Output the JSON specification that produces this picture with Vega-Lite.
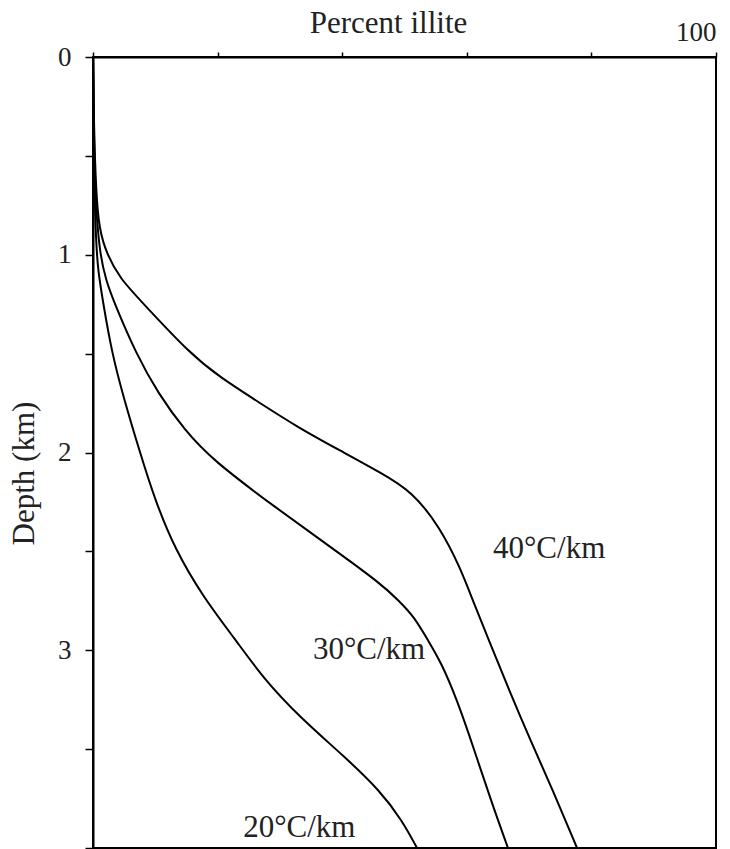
{
  "$schema": "https://vega.github.io/schema/vega-lite/v6.json",
  "width": 623,
  "height": 791,
  "autosize": "none",
  "padding": {"left": 93, "top": 57, "right": 14, "bottom": 1},
  "background": "white",
  "config": {
    "font": "Liberation Serif",
    "view": {"stroke": "black", "strokeWidth": 2},
    "axis": {"grid": false, "domainColor": "black", "domainWidth": 2, "tickColor": "black", "tickWidth": 1.5, "labelColor": "#222", "titleColor": "#222", "labelFont": "Liberation Serif", "titleFont": "Liberation Serif", "labelFontSize": 27, "titleFontSize": 31, "titleFontWeight": "normal"}
  },
  "datasets": {
    "curves": [
      {"gradient": "40°C/km", "depth": 0, "pct": 0},
      {"gradient": "40°C/km", "depth": 0.37, "pct": 0.16},
      {"gradient": "40°C/km", "depth": 0.67, "pct": 0.48},
      {"gradient": "40°C/km", "depth": 0.87, "pct": 0.96},
      {"gradient": "40°C/km", "depth": 1.0, "pct": 2.25},
      {"gradient": "40°C/km", "depth": 1.12, "pct": 4.33},
      {"gradient": "40°C/km", "depth": 1.24, "pct": 7.87},
      {"gradient": "40°C/km", "depth": 1.5, "pct": 15.57},
      {"gradient": "40°C/km", "depth": 1.62, "pct": 20.39},
      {"gradient": "40°C/km", "depth": 1.75, "pct": 26.81},
      {"gradient": "40°C/km", "depth": 1.87, "pct": 32.74},
      {"gradient": "40°C/km", "depth": 1.99, "pct": 39.65},
      {"gradient": "40°C/km", "depth": 2.1, "pct": 46.07},
      {"gradient": "40°C/km", "depth": 2.2, "pct": 51.36},
      {"gradient": "40°C/km", "depth": 2.38, "pct": 55.7},
      {"gradient": "40°C/km", "depth": 2.58, "pct": 58.91},
      {"gradient": "40°C/km", "depth": 2.75, "pct": 60.99},
      {"gradient": "40°C/km", "depth": 2.95, "pct": 63.56},
      {"gradient": "40°C/km", "depth": 3.2, "pct": 66.77},
      {"gradient": "40°C/km", "depth": 3.45, "pct": 70.14},
      {"gradient": "40°C/km", "depth": 3.71, "pct": 73.84},
      {"gradient": "40°C/km", "depth": 4.0, "pct": 77.69},
      {"gradient": "30°C/km", "depth": 0, "pct": 0},
      {"gradient": "30°C/km", "depth": 0.47, "pct": 0.16},
      {"gradient": "30°C/km", "depth": 0.77, "pct": 0.48},
      {"gradient": "30°C/km", "depth": 1.0, "pct": 1.12},
      {"gradient": "30°C/km", "depth": 1.13, "pct": 2.09},
      {"gradient": "30°C/km", "depth": 1.24, "pct": 3.37},
      {"gradient": "30°C/km", "depth": 1.5, "pct": 6.9},
      {"gradient": "30°C/km", "depth": 1.7, "pct": 10.43},
      {"gradient": "30°C/km", "depth": 1.89, "pct": 14.77},
      {"gradient": "30°C/km", "depth": 2.04, "pct": 19.26},
      {"gradient": "30°C/km", "depth": 2.28, "pct": 29.37},
      {"gradient": "30°C/km", "depth": 2.49, "pct": 38.68},
      {"gradient": "30°C/km", "depth": 2.66, "pct": 46.07},
      {"gradient": "30°C/km", "depth": 2.75, "pct": 49.12},
      {"gradient": "30°C/km", "depth": 2.83, "pct": 51.52},
      {"gradient": "30°C/km", "depth": 2.95, "pct": 53.77},
      {"gradient": "30°C/km", "depth": 3.06, "pct": 55.86},
      {"gradient": "30°C/km", "depth": 3.25, "pct": 58.43},
      {"gradient": "30°C/km", "depth": 3.5, "pct": 61.16},
      {"gradient": "30°C/km", "depth": 3.76, "pct": 63.88},
      {"gradient": "30°C/km", "depth": 4.0, "pct": 66.61},
      {"gradient": "20°C/km", "depth": 0, "pct": 0},
      {"gradient": "20°C/km", "depth": 0.62, "pct": 0.16},
      {"gradient": "20°C/km", "depth": 0.93, "pct": 0.48},
      {"gradient": "20°C/km", "depth": 1.08, "pct": 0.8},
      {"gradient": "20°C/km", "depth": 1.24, "pct": 1.61},
      {"gradient": "20°C/km", "depth": 1.5, "pct": 3.05},
      {"gradient": "20°C/km", "depth": 1.73, "pct": 4.98},
      {"gradient": "20°C/km", "depth": 2.0, "pct": 7.54},
      {"gradient": "20°C/km", "depth": 2.24, "pct": 9.95},
      {"gradient": "20°C/km", "depth": 2.49, "pct": 13.16},
      {"gradient": "20°C/km", "depth": 2.73, "pct": 17.66},
      {"gradient": "20°C/km", "depth": 2.95, "pct": 22.95},
      {"gradient": "20°C/km", "depth": 3.14, "pct": 27.29},
      {"gradient": "20°C/km", "depth": 3.34, "pct": 33.23},
      {"gradient": "20°C/km", "depth": 3.54, "pct": 40.45},
      {"gradient": "20°C/km", "depth": 3.71, "pct": 46.07},
      {"gradient": "20°C/km", "depth": 3.86, "pct": 49.6},
      {"gradient": "20°C/km", "depth": 4.0, "pct": 52.01}
    ],
    "labels": [
      {"label": "40°C/km", "pct": 64.2, "depth": 2.49},
      {"label": "30°C/km", "pct": 35.3, "depth": 3.0},
      {"label": "20°C/km", "pct": 24.1, "depth": 3.9}
    ]
  },
  "layer": [
    {
      "data": {"name": "curves"},
      "mark": {"type": "line", "color": "black", "strokeWidth": 2, "interpolate": "basis", "clip": true},
      "encoding": {
        "x": {"field": "pct", "type": "quantitative", "scale": {"domain": [0, 100], "nice": false, "zero": false},
          "axis": {"orient": "top", "values": [0, 20, 40, 60, 80, 100], "labelExpr": "datum.value == 100 ? '100' : ''", "labelFlush": true, "tickSize": 5, "labelPadding": 6, "title": "Percent illite", "titleX": 295, "titleY": -25, "titleBaseline": "alphabetic"}},
        "y": {"field": "depth", "type": "quantitative", "scale": {"domain": [0, 4], "reverse": true, "nice": false, "zero": false},
          "axis": {"values": [0, 0.5, 1, 1.5, 2, 2.5, 3, 3.5, 4], "labelExpr": "datum.value % 1 == 0 && datum.value < 4 ? format(datum.value, 'd') : ''", "tickSize": 8, "labelPadding": 14, "title": "Depth (km)", "titleX": -69, "titleY": 416, "titleBaseline": "middle"}},
        "detail": {"field": "gradient", "type": "nominal"},
        "order": {"field": "depth", "type": "quantitative"}
      }
    },
    {
      "data": {"name": "labels"},
      "mark": {"type": "text", "align": "left", "baseline": "middle", "font": "Liberation Serif", "fontSize": 31, "color": "#222"},
      "encoding": {
        "x": {"field": "pct", "type": "quantitative"},
        "y": {"field": "depth", "type": "quantitative"},
        "text": {"field": "label", "type": "nominal"}
      }
    }
  ]
}
